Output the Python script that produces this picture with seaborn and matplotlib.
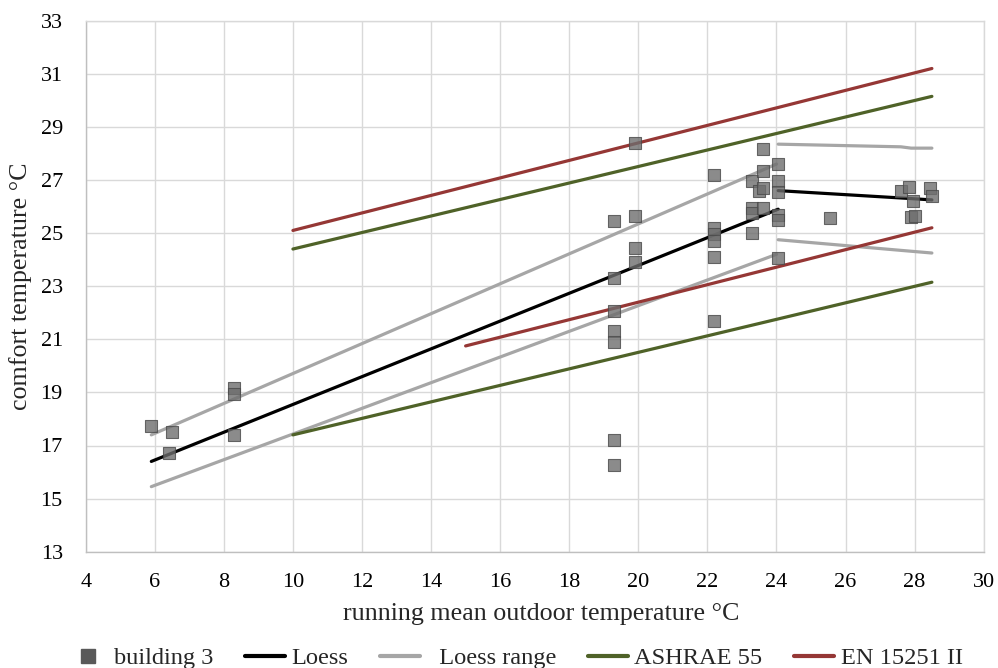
import numpy as np
import pandas as pd
import matplotlib
matplotlib.use("Agg")
import matplotlib.pyplot as plt
import seaborn as sns
from matplotlib.lines import Line2D

# ---- data ----
b3_x = [5.9, 6.4, 6.5, 8.3, 8.3, 8.3,
        19.3, 19.3, 19.3, 19.3, 19.3, 19.3, 19.3,
        19.9, 19.9, 19.9, 19.9,
        22.2, 22.2, 22.2, 22.2, 22.2, 22.2,
        23.3, 23.3, 23.3, 23.3, 23.5, 23.6, 23.6, 23.6, 23.6,
        24.05, 24.05, 24.05, 24.05, 24.05, 24.05,
        25.55, 27.6, 27.85, 27.95, 27.9, 28.0, 28.45, 28.5]
b3_y = [17.75, 16.7, 17.5, 19.15, 18.95, 17.4,
        25.45, 23.3, 22.05, 21.3, 20.9, 17.2, 16.25,
        28.4, 25.65, 24.45, 23.9,
        27.2, 25.2, 24.95, 24.7, 24.1, 21.7,
        26.95, 25.95, 25.75, 25.0, 26.6, 28.15, 27.35, 26.7, 25.95,
        27.6, 26.95, 26.55, 25.7, 25.5, 24.05,
        25.55, 26.6, 26.75, 26.2, 25.6, 25.65, 26.7, 26.4]

loess_x1 = [5.9, 24.05]
loess_y1 = [16.4, 25.9]
loess_x2 = [24.05, 27.9, 28.5]
loess_y2 = [26.6, 26.3, 26.25]

range_up_x1 = [5.9, 24.0]
range_up_y1 = [17.4, 27.6]
range_up_x2 = [24.05, 27.6, 27.9, 28.5]
range_up_y2 = [28.35, 28.25, 28.2, 28.2]
range_lo_x1 = [5.9, 24.0]
range_lo_y1 = [15.45, 24.2]
range_lo_x2 = [24.05, 27.6, 28.5]
range_lo_y2 = [24.75, 24.35, 24.25]

ashrae_x = [10, 28.5]
ashrae_up = [24.4, 30.15]
ashrae_lo = [17.4, 23.15]

en_up_x = [10, 28.5]
en_up_y = [25.1, 31.2]
en_lo_x = [15, 28.5]
en_lo_y = [20.75, 25.2]

x_ticks = list(range(4, 31, 2))
y_ticks = list(range(13, 34, 2))

# ---- style ----
sns.set_theme(style="white")
plt.rcParams['font.family'] = ['Liberation Serif', 'DejaVu Serif']

c_loess = "#000000"
c_range = "#A6A6A6"
c_ashrae = "#4F6228"
c_en = "#953735"
c_grid = "#D9D9D9"

fig = plt.figure(figsize=(9.98, 6.68), dpi=100)
ax = fig.add_axes([85.7/998, 1-551.7/668, (983.7-85.7)/998, (551.7-20.7)/668])

def segs(parts, name):
    rows = []
    for i, (xs, ys) in enumerate(parts):
        for x, y in zip(xs, ys):
            rows.append({"x": x, "y": y, "seg": f"{name}{i}"})
    return pd.DataFrame(rows)

lw = 2.3
d_range = segs([(range_up_x1, range_up_y1), (range_up_x2, range_up_y2),
                (range_lo_x1, range_lo_y1), (range_lo_x2, range_lo_y2)], "r")
sns.lineplot(data=d_range, x="x", y="y", units="seg", estimator=None, sort=False,
             color=c_range, lw=lw, ax=ax, zorder=3)
d_ash = segs([(ashrae_x, ashrae_up), (ashrae_x, ashrae_lo)], "a")
sns.lineplot(data=d_ash, x="x", y="y", units="seg", estimator=None, sort=False,
             color=c_ashrae, lw=lw, ax=ax, zorder=3)
d_en = segs([(en_up_x, en_up_y), (en_lo_x, en_lo_y)], "e")
sns.lineplot(data=d_en, x="x", y="y", units="seg", estimator=None, sort=False,
             color=c_en, lw=lw, ax=ax, zorder=3)
d_lo = segs([(loess_x1, loess_y1), (loess_x2, loess_y2)], "l")
sns.lineplot(data=d_lo, x="x", y="y", units="seg", estimator=None, sort=False,
             color=c_loess, lw=lw, ax=ax, zorder=3)

d_b3 = pd.DataFrame({"x": b3_x, "y": b3_y})
sns.scatterplot(data=d_b3, x="x", y="y", marker="s", s=85, color="#6E6E6E",
                edgecolor="#4A4A4A", linewidth=0.8, alpha=0.8, ax=ax, zorder=4)

ax.set_xlim(4, 30)
ax.set_ylim(13, 33)
ax.set_xticks(x_ticks)
ax.set_yticks(y_ticks)
ax.grid(True, color=c_grid, lw=1.0)
ax.set_axisbelow(True)
for s in ax.spines.values():
    s.set_color(c_grid)
    s.set_linewidth(1.0)
ax.spines['left'].set_color("#BFBFBF")
ax.spines['bottom'].set_color("#BFBFBF")
ax.tick_params(axis='both', length=0, labelsize=16, colors="#000000")
ax.tick_params(axis='y', pad=16.5)
ax.tick_params(axis='x', pad=15)

ax.set_xlabel("running mean outdoor temperature °C", fontsize=18.7, labelpad=8)
ax.xaxis.label.set_x(0.507)
ax.set_ylabel("comfort temperature °C", fontsize=18.7, labelpad=6)

handles = [
    Line2D([], [], marker="s", ls="none", color="#595959", markersize=10),
    Line2D([], [], color=c_loess, lw=3),
    Line2D([], [], color=c_range, lw=3),
    Line2D([], [], color=c_ashrae, lw=3),
    Line2D([], [], color=c_en, lw=3),
]
labels = ["building 3", "Loess", "  Loess range", "ASHRAE 55", "EN 15251 II"]
fig.legend(handles, labels, loc="center", bbox_to_anchor=(0.516, 1-658/668),
           ncol=5, frameon=False, fontsize=17.6, handlelength=1.65,
           handletextpad=0.25, columnspacing=1.3)

fig.savefig("out.png", dpi=100)
